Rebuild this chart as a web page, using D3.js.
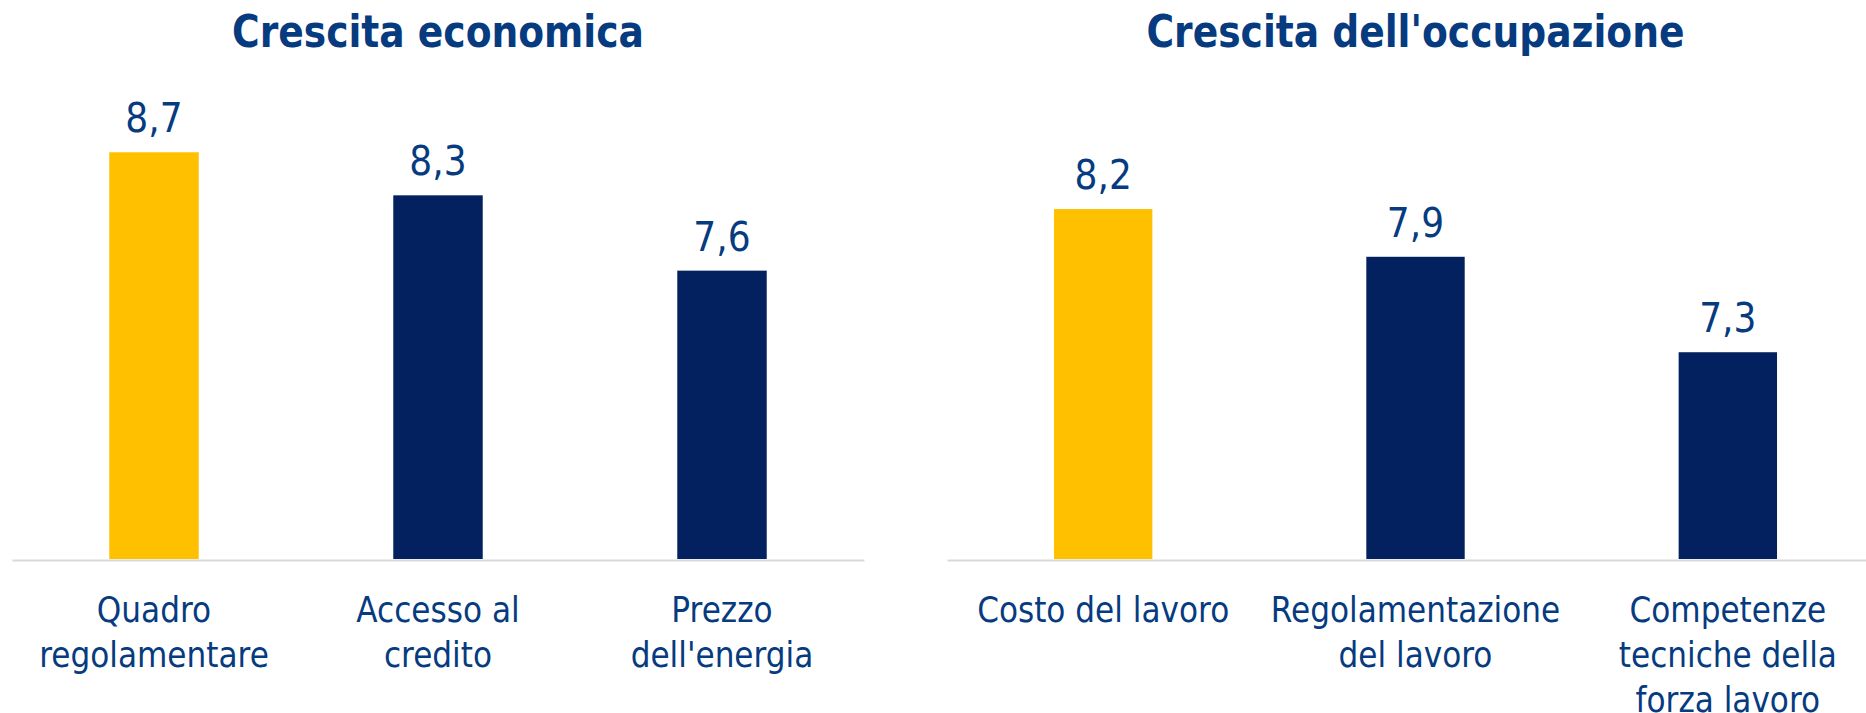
<!DOCTYPE html>
<html>
<head>
<meta charset="utf-8">
<script src="https://cdn.jsdelivr.net/npm/d3@7"></script>
<style>
  html, body { margin: 0; padding: 0; background: #ffffff; }
  svg { display: block; }
</style>
</head>
<body>
<svg id="chart" width="1866" height="713"></svg>
<script>
// ---------------- DATA ----------------
const titleLeft = "Crescita economica";
const titleRight = "Crescita dell'occupazione";

const categoriesLeft = ["Quadro regolamentare", "Accesso al credito", "Prezzo dell'energia"];
const labelLinesLeft = [["Quadro", "regolamentare"], ["Accesso al", "credito"], ["Prezzo", "dell'energia"]];
const valuesLeft = [8.7, 8.3, 7.6];
const highlightLeft = [true, false, false];

const categoriesRight = ["Costo del lavoro", "Regolamentazione del lavoro", "Competenze tecniche della forza lavoro"];
const labelLinesRight = [["Costo del lavoro"], ["Regolamentazione", "del lavoro"], ["Competenze", "tecniche della", "forza lavoro"]];
const valuesRight = [8.2, 7.9, 7.3];
const highlightRight = [true, false, false];

// value-axis extents (axis settings of each panel)
const yDomainLeft = [4.92, 9.0];
const yDomainRight = [6.0, 8.76];

// ---------------- STYLE ----------------
const COL_TEXT = "#063b7f";
const COL_NAVY = "#03215e";
const COL_YELLOW = "#ffc000";
const COL_AXIS = "#d9d9d9";
const FONT = "'DejaVu Sans', Verdana, sans-serif";
const fmt = v => d3.format(".1f")(v).replace(".", ",");

const svg = d3.select("#chart");

function condense(sel, factor) {
  sel.each(function () {
    const w = this.getComputedTextLength();
    d3.select(this).attr("textLength", w * factor).attr("lengthAdjust", "spacingAndGlyphs");
  });
}

function panel(opts) {
  const { title, cats, lines, vals, hi, xRange, yDomain } = opts;
  const baseY = 559, topY = 120;
  const x = d3.scaleBand().domain(cats).range(xRange).paddingInner(0.685).paddingOuter(0.3425);
  const y = d3.scaleLinear().domain(yDomain).range([baseY, topY]);
  const g = svg.append("g");

  // title
  const t = g.append("text")
    .attr("x", (xRange[0] + xRange[1]) / 2)
    .attr("y", 47)
    .attr("text-anchor", "middle")
    .attr("font-family", FONT)
    .attr("font-weight", "bold")
    .attr("font-size", 44)
    .attr("fill", COL_TEXT)
    .text(title);
  condense(t, 0.855);

  // bars
  g.selectAll("rect.bar").data(vals).enter().append("rect")
    .attr("class", "bar")
    .attr("x", (d, i) => x(cats[i]))
    .attr("width", x.bandwidth())
    .attr("y", d => y(d))
    .attr("height", d => baseY - y(d))
    .attr("fill", (d, i) => hi[i] ? COL_YELLOW : COL_NAVY);

  // axis line
  const axis = d3.axisBottom(x).tickSize(0).tickFormat("");
  const ag = g.append("g").attr("transform", `translate(0,${baseY + 1})`).call(axis);
  ag.select(".domain").attr("stroke", COL_AXIS).attr("stroke-width", 2);

  // value labels
  const vl = g.selectAll("text.val").data(vals).enter().append("text")
    .attr("class", "val")
    .attr("x", (d, i) => x(cats[i]) + x.bandwidth() / 2)
    .attr("y", d => y(d) - 20)
    .attr("text-anchor", "middle")
    .attr("font-family", FONT)
    .attr("font-size", 40)
    .attr("fill", COL_TEXT)
    .text(d => fmt(d));
  condense(vl, 0.9);

  // category labels
  cats.forEach((c, i) => {
    lines[i].forEach((ln, j) => {
      const tt = g.append("text")
        .attr("x", x(c) + x.bandwidth() / 2)
        .attr("y", 622 + j * 45)
        .attr("text-anchor", "middle")
        .attr("font-family", FONT)
        .attr("font-size", 36)
        .attr("fill", COL_TEXT)
        .text(ln);
      condense(tt, 0.865);
    });
  });
}

panel({ title: titleLeft, cats: categoriesLeft, lines: labelLinesLeft, vals: valuesLeft, hi: highlightLeft,
        xRange: [12, 864], yDomain: yDomainLeft });
panel({ title: titleRight, cats: categoriesRight, lines: labelLinesRight, vals: valuesRight, hi: highlightRight,
        xRange: [947, 1884], yDomain: yDomainRight });
</script>
</body>
</html>
